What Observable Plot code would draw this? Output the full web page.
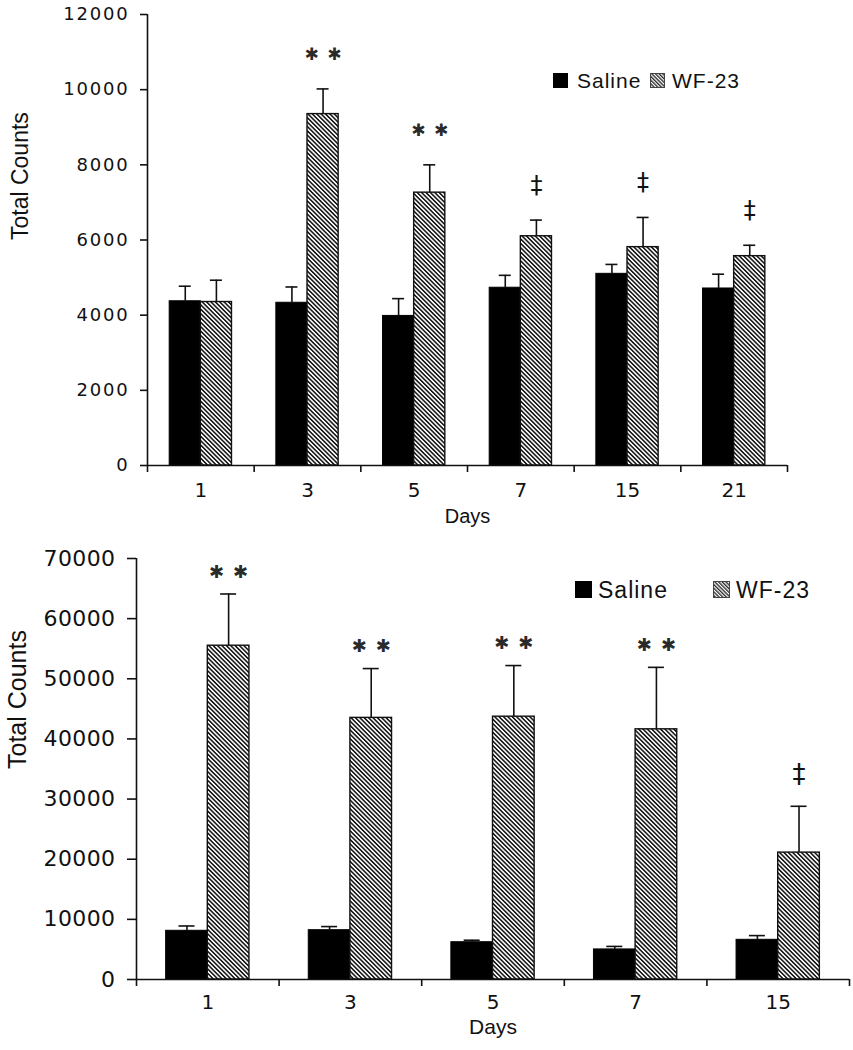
<!DOCTYPE html>
<html><head><meta charset="utf-8">
<script src="https://cdn.jsdelivr.net/npm/d3@7"></script>
<script src="https://cdn.jsdelivr.net/npm/@observablehq/plot@0.6"></script>
<style>
body{margin:0;background:#fff}
.panel{position:relative;width:853px}
.panel svg{display:block}
.sw{position:absolute;box-sizing:border-box}
.lt{position:absolute;line-height:1}
#top g[aria-label="y-axis tick label"] text{letter-spacing:1.8px}
#bot g[aria-label="y-axis tick label"] text{letter-spacing:0.4px}
</style></head><body>
<div id="top" class="panel"></div>
<div id="bot" class="panel"></div>
<script>
// ---- Top panel data ----
const topDays = ["1", "3", "5", "7", "15", "21"];
const topSaline = [4370, 4330, 3980, 4730, 5100, 4710];
const topSalineErr = [400, 420, 460, 330, 250, 380];
const topWF = [4350, 9350, 7260, 6100, 5810, 5570];
const topWFErr = [580, 670, 740, 430, 790, 290];
const topSig = ["", "* *", "* *", "‡", "‡", "‡"];
const topYTicks = [0, 2000, 4000, 6000, 8000, 10000, 12000];

// ---- Bottom panel data ----
const botDays = ["1", "3", "5", "7", "15"];
const botSaline = [8100, 8200, 6200, 5000, 6600];
const botSalineErr = [800, 600, 330, 500, 700];
const botWF = [55500, 43500, 43700, 41600, 21100];
const botWFErr = [8600, 8200, 8500, 10300, 7700];
const botSig = ["* *", "* *", "* *", "* *", "‡"];
const botYTicks = [0, 10000, 20000, 30000, 40000, 50000, 60000, 70000];

const seriesNames = ["Saline", "WF-23"];
const xTitle = "Days";
const yTitle = "Total Counts";

function makeChart(cfg) {
  const {days, saline, salineErr, wf, wfErr, sig, yTicks, width, height, mt, mb, ml, mr, id,
    tickFont, xTickFont, tickSize, tickPad, xPad, labelFont, labelDx, daysFont, daysDy, capHalf,
    starFont, starDy, daggerFont, daggerDy} = cfg;
  const yMax = yTicks[yTicks.length - 1];
  const bw = (width - ml - mr) / days.length;
  const outer = 0.208 * bw, barW = 0.292 * bw;
  const sal = days.map((day, i) => ({day, mean: saline[i], err: salineErr[i]}));
  const wfd = days.map((day, i) => ({day, mean: wf[i], err: wfErr[i], sig: sig[i]}));
  const sOff = outer + barW / 2 - bw / 2;
  const wOff = bw / 2 - outer - barW / 2;
  const top = d => d.mean + d.err;
  const sw = 1.6;
  const svg = Plot.plot({
    width, height, marginTop: mt, marginBottom: mb, marginLeft: ml, marginRight: mr,
    style: {fontFamily: "'DejaVu Sans', sans-serif", fontSize: tickFont + "px", color: "#111", background: "#fff", overflow: "visible"},
    x: {domain: days, paddingInner: 0, paddingOuter: 0, round: false},
    y: {domain: [0, yMax]},
    marks: [
      Plot.barY(sal, {x: "day", y: "mean", fill: "#000", stroke: "#000", strokeWidth: 1, insetLeft: outer, insetRight: bw - outer - barW}),
      Plot.barY(wfd, {x: "day", y: "mean", fill: `url(#${id})`, stroke: "#111", strokeWidth: 1.4, insetLeft: outer + barW, insetRight: outer}),
      Plot.ruleX(sal, {x: "day", y1: "mean", y2: top, dx: sOff, strokeWidth: sw, stroke: "#111"}),
      Plot.ruleX(wfd, {x: "day", y1: "mean", y2: top, dx: wOff, strokeWidth: sw, stroke: "#111"}),
      Plot.tickY(sal, {x: "day", y: top, insetLeft: bw / 2 + sOff - capHalf, insetRight: bw / 2 - sOff - capHalf, strokeWidth: sw, stroke: "#111"}),
      Plot.tickY(wfd, {x: "day", y: top, insetLeft: bw / 2 + wOff - capHalf, insetRight: bw / 2 - wOff - capHalf, strokeWidth: sw, stroke: "#111"}),
      Plot.ruleY([0], {strokeWidth: sw, stroke: "#111"}),
      Plot.ruleX(days.slice(0, 1), {x: d => d, dx: -bw / 2, y1: () => yMax, y2: () => 0, insetBottom: -7, strokeWidth: sw, stroke: "#111"}),
      Plot.ruleX(days, {x: d => d, dx: bw / 2, y1: () => 0, y2: () => 0, insetBottom: -7, strokeWidth: sw, stroke: "#111"}),
      Plot.axisY({ticks: yTicks, tickSize, tickPadding: tickPad, tickFormat: d => String(d), label: null, strokeWidth: sw, stroke: "#111", fill: "#111"}),
      Plot.axisX({tickSize: 0, tickPadding: xPad, label: null, fontSize: xTickFont, fill: "#111"}),
      Plot.text([xTitle], {frameAnchor: "bottom", dy: daysDy, lineAnchor: "middle", fontFamily: "'Liberation Sans', Arial, sans-serif", fontSize: daysFont, fill: "#111"}),
      Plot.text([yTitle], {frameAnchor: "left", dx: labelDx, rotate: -90, lineAnchor: "middle", fontFamily: "'Liberation Sans', Arial, sans-serif", fontSize: labelFont, fill: "#111"}),
      Plot.text(wfd.filter(d => d.sig.includes("*")), {x: "day", y: top, text: d => d.sig.replace(/\*/g, "\u2731").replace(" ", "\u2002"), dx: wOff, dy: starDy, lineAnchor: "middle", fontFamily: "'DejaVu Sans', sans-serif", fontSize: starFont, fill: "#2a2a2a"}),
      Plot.text(wfd.filter(d => d.sig === "‡"), {x: "day", y: top, text: "sig", dx: wOff, dy: daggerDy, lineAnchor: "middle", fontFamily: "'DejaVu Sans', sans-serif", fontSize: daggerFont, fill: "#111"})
    ]
  });
  const defs = d3.select(svg).insert("defs", ":first-child");
  const p = 3.1;
  const pat = defs.append("pattern").attr("id", id).attr("patternUnits", "userSpaceOnUse")
    .attr("width", p).attr("height", p).attr("patternTransform", "rotate(-45)");
  pat.append("rect").attr("width", p).attr("height", p).attr("fill", "#fff");
  pat.append("line").attr("x1", 0.8).attr("y1", 0).attr("x2", 0.8).attr("y2", p).attr("stroke", "#1a1a1a").attr("stroke-width", 1.6);
  return svg;
}

function addLegend(container, cfg) {
  const {top, sq, sal, fs} = cfg;
  const html = `
    <div class="sw" style="left:${sal[0]}px;top:${top - sq / 2}px;width:${sq}px;height:${sq}px;background:#000"></div>
    <div class="lt" style="left:${sal[1]}px;top:${top - fs * 0.53}px;font:${fs}px 'Liberation Sans',Arial,sans-serif;letter-spacing:1px;color:#111">${seriesNames[0]}</div>
    <svg class="sw" style="left:${sal[2]}px;top:${top - sq / 2}px" width="${sq}" height="${sq}"><defs><pattern id="lp${fs}" patternUnits="userSpaceOnUse" width="2.6" height="2.6" patternTransform="rotate(-45)"><rect width="2.6" height="2.6" fill="#fff"/><line x1="0.7" y1="0" x2="0.7" y2="2.6" stroke="#222" stroke-width="1.3"/></pattern></defs><rect x="0.5" y="0.5" width="${sq - 1}" height="${sq - 1}" fill="url(#lp${fs})" stroke="#444" stroke-width="1"/></svg>
    <div class="lt" style="left:${sal[3]}px;top:${top - fs * 0.53}px;font:${fs}px 'Liberation Sans',Arial,sans-serif;letter-spacing:1px;color:#111">${seriesNames[1]}</div>`;
  const d = document.createElement("div");
  d.innerHTML = html;
  while (d.firstChild) container.appendChild(d.firstChild);
}

const topEl = document.getElementById("top");
topEl.appendChild(makeChart({
  days: topDays, saline: topSaline, salineErr: topSalineErr, wf: topWF, wfErr: topWFErr, sig: topSig, yTicks: topYTicks,
  width: 853, height: 530, mt: 14, mb: 65, ml: 147, mr: 66, id: "hatchTop",
  tickFont: 18, xTickFont: 20, tickSize: 7, tickPad: 11, xPad: 17, labelFont: 23, labelDx: -127,
  daysFont: 20, daysDy: 51, capHalf: 6, starFont: 17, starDy: -34, daggerFont: 24, daggerDy: -35
}));
addLegend(topEl, {top: 80, sq: 15, sal: [553, 577, 650, 672], fs: 21});

const botEl = document.getElementById("bot");
botEl.appendChild(makeChart({
  days: botDays, saline: botSaline, salineErr: botSalineErr, wf: botWF, wfErr: botWFErr, sig: botSig, yTicks: botYTicks,
  width: 853, height: 520, mt: 28, mb: 71, ml: 136, mr: 4, id: "hatchBot",
  tickFont: 22, xTickFont: 20, tickSize: 9, tickPad: 12, xPad: 15, labelFont: 25, labelDx: -119,
  daysFont: 21, daysDy: 48, capHalf: 8, starFont: 18, starDy: -22, daggerFont: 26, daggerDy: -32
}));
addLegend(botEl, {top: 59, sq: 17, sal: [575, 598, 713, 736], fs: 23});
</script>
</body></html>
